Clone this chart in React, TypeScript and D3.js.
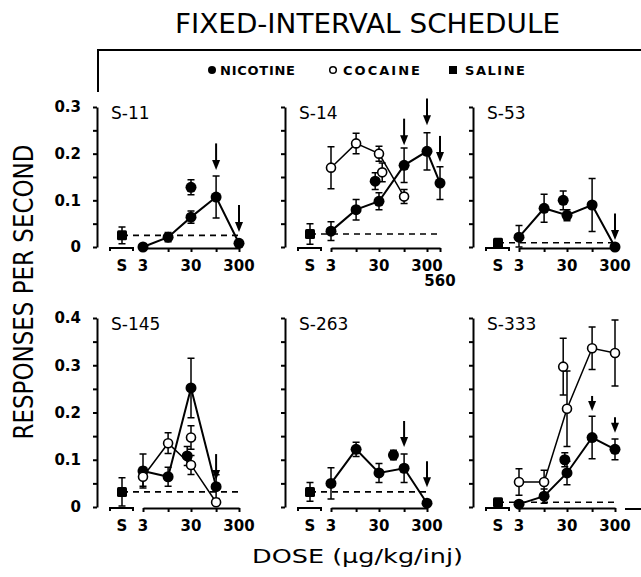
import React, { useEffect, useRef } from "react";
import * as d3 from "d3";

// dose axis ticks (ug/kg/inj) and the ones that carry a label
const doseTicks = [3, 10, 30, 100, 300];
const doseLabels = [3, 30, 300];

// saline: [mean, sem]; extra points: [drug, dose, mean, sem]; arrows: [dose, tail, tip]
// S-11
const s11Saline = [0.025, 0.018];
const s11Doses = [3, 10, 30, 100, 300];
const s11Nic = [0.0, 0.021, 0.064, 0.107, 0.008];
const s11NicErr = [0.003, 0.01, 0.013, 0.045, 0.006];
const s11Extra = [["nic", 30, 0.128, 0.016]];
const s11Arrows = [[100, 0.222, 0.165], [300, 0.09, 0.032]];

// S-14
const s14Saline = [0.028, 0.022];
const s14NicDoses = [3, 10, 30, 100, 300, 560];
const s14Nic = [0.034, 0.08, 0.098, 0.175, 0.205, 0.137];
const s14NicErr = [0.02, 0.022, 0.018, 0.037, 0.04, 0.035];
const s14CocDoses = [3, 10, 30, 100];
const s14Coc = [0.17, 0.222, 0.2, 0.108];
const s14CocErr = [0.045, 0.022, 0.016, 0.015];
const s14Extra = [["nic", 25, 0.141, 0.018], ["coc", 35, 0.16, 0.02]];
const s14Arrows = [[100, 0.275, 0.218], [300, 0.318, 0.261], [560, 0.238, 0.182]];

// S-53
const s53Saline = [0.009, 0.006];
const s53Doses = [3, 10, 30, 100, 300];
const s53Nic = [0.021, 0.083, 0.068, 0.09, 0.0];
const s53NicErr = [0.025, 0.03, 0.012, 0.057, 0.003];
const s53Extra = [["nic", 25, 0.1, 0.02]];
const s53Arrows = [[300, 0.072, 0.015]];

// S-145
const s145Saline = [0.032, 0.03];
const s145Doses = [3, 10, 30, 100];
const s145Nic = [0.076, 0.064, 0.252, 0.043];
const s145NicErr = [0.036, 0.02, 0.063, 0.025];
const s145Coc = [0.064, 0.135, 0.089, 0.01];
const s145CocErr = [0.02, 0.022, 0.02, 0.005];
const s145Extra = [["nic", 25, 0.108, 0.02], ["coc", 30, 0.147, 0.025]];
const s145Arrows = [[100, 0.112, 0.057]];

// S-263
const s263Saline = [0.032, 0.02];
const s263Doses = [3, 10, 30, 100, 300];
const s263Nic = [0.05, 0.122, 0.072, 0.082, 0.008];
const s263NicErr = [0.033, 0.015, 0.02, 0.03, 0.005];
const s263Extra = [["nic", 60, 0.11, 0.01]];
const s263Arrows = [[100, 0.182, 0.127], [300, 0.097, 0.042]];

// S-333
const s333Saline = [0.01, 0.005];
const s333Doses = [3, 10, 30, 100, 300];
const s333Nic = [0.006, 0.023, 0.072, 0.147, 0.122];
const s333NicErr = [0.004, 0.015, 0.025, 0.045, 0.022];
const s333Coc = [0.053, 0.053, 0.208, 0.336, 0.326];
const s333CocErr = [0.028, 0.025, 0.08, 0.045, 0.07];
const s333Extra = [["nic", 27, 0.1, 0.015], ["coc", 25, 0.297, 0.06]];
const s333Arrows = [[100, 0.235, 0.203], [300, 0.19, 0.157]];

const panels = [
  { name: "S-11", row: 0, col: 0, saline: s11Saline, nic: [s11Doses, s11Nic, s11NicErr], coc: null, extra: s11Extra, arrows: s11Arrows, maxDose: 300 },
  { name: "S-14", row: 0, col: 1, saline: s14Saline, nic: [s14NicDoses, s14Nic, s14NicErr], coc: [s14CocDoses, s14Coc, s14CocErr], extra: s14Extra, arrows: s14Arrows, maxDose: 560 },
  { name: "S-53", row: 0, col: 2, saline: s53Saline, nic: [s53Doses, s53Nic, s53NicErr], coc: null, extra: s53Extra, arrows: s53Arrows, maxDose: 300 },
  { name: "S-145", row: 1, col: 0, saline: s145Saline, nic: [s145Doses, s145Nic, s145NicErr], coc: [s145Doses, s145Coc, s145CocErr], extra: s145Extra, arrows: s145Arrows, maxDose: 300 },
  { name: "S-263", row: 1, col: 1, saline: s263Saline, nic: [s263Doses, s263Nic, s263NicErr], coc: null, extra: s263Extra, arrows: s263Arrows, maxDose: 300 },
  { name: "S-333", row: 1, col: 2, saline: s333Saline, nic: [s333Doses, s333Nic, s333NicErr], coc: [s333Doses, s333Coc, s333CocErr], extra: s333Extra, arrows: s333Arrows, maxDose: 300 },
];

const yMax = [0.3, 0.4];

const FixedInterval = () => {
  const ref = useRef();

  useEffect(() => {
    document.body.style.margin = "0";
    const svg = d3.select(ref.current).attr("width", 641).attr("height", 577);
    svg.selectAll("*").remove();

    const font = "DejaVu Sans, Liberation Sans, sans-serif";
    const colX = [97, 285, 473];
    const zeroY = [247, 507];
    const topY = [107, 318];

    // title + bracket
    svg.append("text").attr("x", 175).attr("y", 33).attr("font-family", font)
      .attr("font-size", 27).attr("textLength", 385).attr("lengthAdjust", "spacingAndGlyphs")
      .text("FIXED-INTERVAL SCHEDULE");
    svg.append("path").attr("d", "M98,92V50H641").attr("fill", "none")
      .attr("stroke", "#000").attr("stroke-width", 2);

    // legend
    const lg = svg.append("g").attr("font-family", font).attr("font-weight", "bold").attr("font-size", 13);
    lg.append("circle").attr("cx", 212).attr("cy", 70).attr("r", 4).attr("fill", "#000");
    lg.append("text").attr("x", 220).attr("y", 75).attr("textLength", 75).text("NICOTINE");
    lg.append("circle").attr("cx", 333).attr("cy", 70).attr("r", 3.3).attr("fill", "#fff").attr("stroke", "#000").attr("stroke-width", 1.5);
    lg.append("text").attr("x", 343).attr("y", 75).attr("textLength", 77).text("COCAINE");
    lg.append("rect").attr("x", 449).attr("y", 66).attr("width", 8).attr("height", 8).attr("fill", "#000");
    lg.append("text").attr("x", 465).attr("y", 75).attr("textLength", 60).text("SALINE");

    // axis titles
    svg.append("text").attr("transform", "translate(33,292) rotate(-90)").attr("text-anchor", "middle")
      .attr("font-family", font).attr("font-size", 26).attr("textLength", 295)
      .attr("lengthAdjust", "spacingAndGlyphs").text("RESPONSES PER SECOND");
    svg.append("text").attr("x", 252).attr("y", 563).attr("font-family", font).attr("font-size", 19)
      .attr("textLength", 211).attr("lengthAdjust", "spacingAndGlyphs").text("DOSE (\u00b5g/kg/inj)");

    panels.forEach((p) => {
      const x0 = colX[p.col];
      const y = d3.scaleLinear().domain([0, yMax[p.row]]).range([zeroY[p.row], topY[p.row]]);
      const x = d3.scaleLog().domain([3, 300]).range([x0 + 46, x0 + 142]);
      const salX = x0 + 25;
      const g = svg.append("g").attr("font-family", font);

      // y axis with minor ticks every 0.05
      const yAxis = d3.axisLeft(y)
        .tickValues(d3.range(0, yMax[p.row] + 0.001, 0.05))
        .tickSize(4).tickSizeOuter(0).tickPadding(12)
        .tickFormat((d) => {
          if (p.col !== 0) return "";
          const r = Math.round(d * 100);
          if (r % 10 !== 0) return "";
          return r === 0 ? "0" : d3.format(".1f")(d);
        });
      const ya = g.append("g").attr("transform", `translate(${x0},0)`).call(yAxis);
      ya.selectAll("path,line").attr("stroke", "#000").attr("stroke-width", 2);
      ya.selectAll("text").attr("font-family", font).attr("font-size", 15).attr("font-weight", "bold").attr("fill", "#000");

      // x axis: saline stub + log dose axis
      const base = zeroY[p.row] + 1;
      g.append("path").attr("d", `M${salX - 12},${base + 3}V${base}H${salX + 11}V${base + 3}`)
        .attr("fill", "none").attr("stroke", "#000").attr("stroke-width", 2);
      const xAxisScale = d3.scaleLog().domain([3, p.maxDose]).range([x(3), x(p.maxDose)]);
      const ticks = p.maxDose > 300 ? [...doseTicks, p.maxDose] : doseTicks;
      const xa = g.append("g").attr("transform", `translate(0,${base})`)
        .call(d3.axisBottom(xAxisScale).tickValues(ticks).tickSize(4).tickSizeOuter(0).tickFormat(""));
      xa.selectAll("path,line").attr("stroke", "#000").attr("stroke-width", 2);

      const lab = g.append("g").attr("font-size", 15).attr("font-weight", "bold").attr("text-anchor", "middle");
      const ly = zeroY[p.row] + 24;
      lab.append("text").attr("x", salX).attr("y", ly).text("S");
      doseLabels.forEach((d) => lab.append("text").attr("x", x(d)).attr("y", ly).text(d));
      if (p.maxDose > 300) lab.append("text").attr("x", x(p.maxDose)).attr("y", ly + 15).text(p.maxDose);

      g.append("text").attr("x", x0 + 14).attr("y", topY[p.row] + 12).attr("font-size", 17).text(p.name);

      // saline reference line
      g.append("line").attr("x1", salX).attr("x2", x(p.maxDose))
        .attr("y1", y(p.saline[0])).attr("y2", y(p.saline[0]))
        .attr("stroke", "#000").attr("stroke-width", 1.6).attr("stroke-dasharray", "6,5");

      const series = [];
      if (p.nic) series.push({ drug: "nic", pts: p.nic[0].map((d, i) => [d, p.nic[1][i], p.nic[2][i]]) });
      if (p.coc) series.push({ drug: "coc", pts: p.coc[0].map((d, i) => [d, p.coc[1][i], p.coc[2][i]]) });
      const line = d3.line().x((d) => x(d[0])).y((d) => y(d[1]));
      series.forEach((s) => {
        g.append("path").attr("d", line(s.pts)).attr("fill", "none")
          .attr("stroke", "#000").attr("stroke-width", s.drug === "nic" ? 2 : 1.5);
      });

      const all = [];
      series.forEach((s) => s.pts.forEach((q) => all.push({ drug: s.drug, cx: x(q[0]), v: q[1], e: q[2] })));
      p.extra.forEach((q) => all.push({ drug: q[0], cx: x(q[1]), v: q[2], e: q[3] }));
      all.push({ drug: "sal", cx: salX, v: p.saline[0], e: p.saline[1] });

      // error bars
      all.forEach((q) => {
        const lo = y(Math.max(0, q.v - q.e));
        const hi = y(q.v + q.e);
        g.append("path").attr("d", `M${q.cx},${lo}V${hi}M${q.cx - 3.5},${hi}H${q.cx + 3.5}M${q.cx - 3.5},${lo}H${q.cx + 3.5}`)
          .attr("fill", "none").attr("stroke", "#000").attr("stroke-width", 1.5);
      });

      // markers
      all.forEach((q) => {
        if (q.drug === "nic") {
          g.append("circle").attr("cx", q.cx).attr("cy", y(q.v)).attr("r", 5.5).attr("fill", "#000");
        } else if (q.drug === "coc") {
          g.append("circle").attr("cx", q.cx).attr("cy", y(q.v)).attr("r", 4.5)
            .attr("fill", "#fff").attr("stroke", "#000").attr("stroke-width", 1.6);
        } else {
          g.append("rect").attr("x", q.cx - 5).attr("y", y(q.v) - 5).attr("width", 10).attr("height", 10)
            .attr("rx", 1.5).attr("fill", "#000");
        }
      });

      // arrows
      p.arrows.forEach((a) => {
        const ax = x(a[0]);
        const yt = y(a[1]);
        const yp = y(a[2]);
        g.append("line").attr("x1", ax).attr("x2", ax).attr("y1", yt).attr("y2", yp - 6)
          .attr("stroke", "#000").attr("stroke-width", 2);
        g.append("path").attr("d", `M${ax - 4},${yp - 10}L${ax + 4},${yp - 10}L${ax},${yp}Z`).attr("fill", "#000");
      });
    });

    // stray axis stub at the right edge of the lower row
    svg.append("line").attr("x1", 625).attr("x2", 641).attr("y1", 509).attr("y2", 509)
      .attr("stroke", "#000").attr("stroke-width", 2);
  }, []);

  return <svg ref={ref} style={{ display: "block" }}></svg>;
};

export default function App() {
  return <FixedInterval />;
}
